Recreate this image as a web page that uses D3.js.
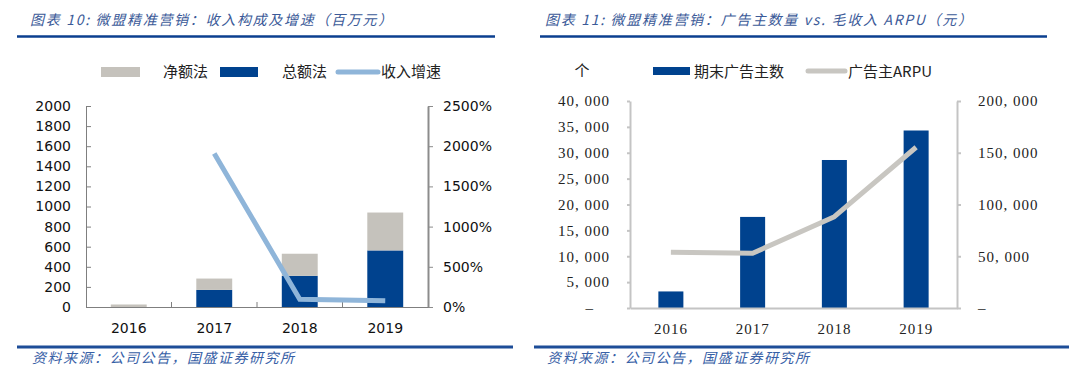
<!DOCTYPE html>
<html>
<head>
<meta charset="utf-8">
<script src="https://cdn.jsdelivr.net/npm/d3@7"></script>
<style>
	body { margin: 0; background: #ffffff; }
	svg { display: block; }
	.title { font-family: "Noto Sans CJK SC", sans-serif; font-style: italic; font-size: 14px; fill: #3b5a98; letter-spacing: 1.7px; }
	.source { font-family: "Noto Sans CJK SC", sans-serif; font-style: italic; font-size: 14px; fill: #3760a6; letter-spacing: 1.5px; }
	.legend { font-family: "Noto Sans CJK SC", sans-serif; font-size: 15px; fill: #222222; }
	.sans text { font-family: "DejaVu Sans", sans-serif; font-size: 14px; fill: #111111; }
	.serif text { font-family: "Liberation Serif", serif; font-size: 15px; fill: #222222; letter-spacing: 1px; }
</style>
</head>
<body>
<svg id="chart" width="1080" height="377"></svg>
<script>
// ---- data ----------------------------------------------------------------

var years = ["2016", "2017", "2018", "2019"];

// left panel (百万元): stacked bars, 总额法 at the bottom, 净额法 on top
var grossRevenue = [0, 170, 310, 563];      // 总额法
var netRevenue = [25, 113, 220, 377];       // 净额法 (segment on top)
var revenueGrowth = [null, 19.1, 0.96, 0.78]; // 收入增速, ratio
var leftTicks = [0, 200, 400, 600, 800, 1000, 1200, 1400, 1600, 1800, 2000];
var growthTicks = [0, 5, 10, 15, 20, 25];

// right panel
var advertisers = [3200, 17600, 28600, 34300];   // 期末广告主数
var advertiserArpu = [53800, 52900, 88200, 155300]; // 广告主ARPU
var countTicks = [0, 5000, 10000, 15000, 20000, 25000, 30000, 35000, 40000];
var arpuTicks = [0, 50000, 100000, 150000, 200000];

var leftTitle = "图表 10:  微盟精准营销：收入构成及增速（百万元）";
var rightTitle = "图表 11:  微盟精准营销：广告主数量 vs. 毛收入 ARPU（元）";
var sourceText = "资料来源：公司公告，国盛证券研究所";

var BLUE = "#00428e";
var GREY_BAR = "#c5c2bc";
var LIGHT_BLUE = "#8fb5d9";
var GREY_LINE = "#c8c6c1";

var svg = d3.select("#chart");

/* **************************************************************************
 * drawFrame
 *
 * Title, the rule under it, the rule at the bottom and the source line.
 ****************************************************************************/
function drawFrame(x0, x1, titleX, title, footX0, footX1, sourceX)
{
	svg.append("text").attr("class", "title")
		.attr("x", titleX).attr("y", 25)
		.text(title);

	svg.append("line")
		.attr("x1", x0).attr("x2", x1).attr("y1", 36.5).attr("y2", 36.5)
		.attr("stroke", "#0b3f8f").attr("stroke-width", 2.5);

	svg.append("line")
		.attr("x1", footX0).attr("x2", footX1).attr("y1", 347).attr("y2", 347)
		.attr("stroke", "#1d4d98").attr("stroke-width", 3);

	svg.append("text").attr("class", "source")
		.attr("x", sourceX).attr("y", 363)
		.text(sourceText);
}

/* **************************************************************************
 * drawRevenuePanel  (left)
 ****************************************************************************/
function drawRevenuePanel()
{
	var x = d3.scaleBand().domain(years).range([86, 428])
		.paddingInner(0.58).paddingOuter(0.29);
	var y = d3.scaleLinear().domain([0, 2000]).range([307, 106]);
	var yPct = d3.scaleLinear().domain([0, 25]).range([307, 106]);

	var rows = years.map(function (yr, i) {
		return { year: yr, gross: grossRevenue[i], net: netRevenue[i] };
	});
	var stacked = d3.stack().keys(["gross", "net"])(rows);
	var colors = { gross: BLUE, net: GREY_BAR };

	var g = svg.append("g").attr("class", "sans");

	g.selectAll("g.series").data(stacked).enter().append("g")
		.attr("class", "series")
		.attr("fill", function (s) { return colors[s.key]; })
		.selectAll("rect").data(function (s) { return s; }).enter().append("rect")
		.attr("x", function (d) { return x(d.data.year); })
		.attr("width", x.bandwidth())
		.attr("y", function (d) { return y(d[1]); })
		.attr("height", function (d) { return y(d[0]) - y(d[1]); });

	// left axis, ticks pointing in
	var ax = g.append("g").attr("transform", "translate(86,0)")
		.call(d3.axisLeft(y).tickValues(leftTicks).tickSizeInner(-5).tickSizeOuter(0).tickPadding(15)
			.tickFormat(d3.format("d")));
	ax.selectAll("line, path").attr("stroke", "#7f7f7f");

	// right axis, percentages
	var axR = g.append("g").attr("transform", "translate(428,0)")
		.call(d3.axisRight(yPct).tickValues(growthTicks).tickSizeInner(5).tickSizeOuter(0).tickPadding(10)
			.tickFormat(function (d) { return (d * 100) + "%"; }));
	axR.selectAll("line, path").attr("stroke", "#8c8c8c");
	axR.select("path").attr("stroke-width", 2);

	// category axis with boundary ticks
	var axX = g.append("g").attr("transform", "translate(0,307)")
		.call(d3.axisBottom(x).tickSize(0).tickPadding(13));
	axX.select("path").attr("stroke", "#7f7f7f");
	axX.selectAll("text").attr("dy", "0.9em");
	g.selectAll("line.bound").data(years.slice(1)).enter().append("line")
		.attr("class", "bound")
		.attr("x1", function (d) { return x(d) - x.step() * x.paddingInner() / 2; })
		.attr("x2", function (d) { return x(d) - x.step() * x.paddingInner() / 2; })
		.attr("y1", 307).attr("y2", 302)
		.attr("stroke", "#7f7f7f");

	// growth line
	var line = d3.line()
		.defined(function (d) { return d.v != null; })
		.x(function (d) { return x(d.year) + x.bandwidth() / 2; })
		.y(function (d) { return yPct(d.v); });
	g.append("path")
		.datum(years.map(function (yr, i) { return { year: yr, v: revenueGrowth[i] }; }))
		.attr("d", line)
		.attr("fill", "none").attr("stroke", LIGHT_BLUE).attr("stroke-width", 5);

	// legend
	var lg = svg.append("g");
	lg.append("rect").attr("x", 101).attr("y", 67).attr("width", 39).attr("height", 10).attr("fill", GREY_BAR);
	lg.append("text").attr("class", "legend").attr("x", 163).attr("y", 77).text("净额法");
	lg.append("rect").attr("x", 220).attr("y", 67).attr("width", 38).attr("height", 10).attr("fill", BLUE);
	lg.append("text").attr("class", "legend").attr("x", 282).attr("y", 77).text("总额法");
	lg.append("line").attr("x1", 338).attr("x2", 378).attr("y1", 72).attr("y2", 72)
		.attr("stroke", LIGHT_BLUE).attr("stroke-width", 5).attr("stroke-linecap", "round");
	lg.append("text").attr("class", "legend").attr("x", 381).attr("y", 77).text("收入增速");
}

/* **************************************************************************
 * drawAdvertiserPanel  (right)
 ****************************************************************************/
function drawAdvertiserPanel()
{
	var x = d3.scaleBand().domain(years).range([630, 957])
		.paddingInner(0.694).paddingOuter(0.347);
	var y = d3.scaleLinear().domain([0, 40000]).range([308, 101]);
	var yArpu = d3.scaleLinear().domain([0, 200000]).range([308, 101]);

	var fmt = function (d) {
		return d === 0 ? "–" : d3.format(",")(d).replace(/,/g, ", ");
	};

	var g = svg.append("g").attr("class", "serif");

	g.selectAll("rect.bar").data(advertisers).enter().append("rect")
		.attr("class", "bar")
		.attr("x", function (d, i) { return x(years[i]); })
		.attr("width", x.bandwidth())
		.attr("y", function (d) { return y(d); })
		.attr("height", function (d) { return 308 - y(d); })
		.attr("fill", BLUE);

	var ax = g.append("g").attr("transform", "translate(630,0)")
		.call(d3.axisLeft(y).tickValues(countTicks).tickSizeInner(3).tickSizeOuter(0).tickPadding(17).tickFormat(fmt));
	ax.selectAll("line, path").attr("stroke", "#c4c4c4").attr("stroke-width", 2);
	ax.selectAll("text").filter(function (d) { return d === 0; }).attr("dx", -16);

	var axR = g.append("g").attr("transform", "translate(957,0)")
		.call(d3.axisRight(yArpu).tickValues(arpuTicks).tickSizeInner(4).tickSizeOuter(0).tickPadding(17).tickFormat(fmt));
	axR.selectAll("line, path").attr("stroke", "#c4c4c4").attr("stroke-width", 2);

	var axX = g.append("g").attr("transform", "translate(0,308)")
		.call(d3.axisBottom(x).tickSize(0).tickPadding(12));
	axX.select("path").attr("stroke", "#c4c4c4").attr("stroke-width", 2);
	axX.selectAll("text").attr("dy", "0.9em");

	var line = d3.line()
		.x(function (d, i) { return x(years[i]) + x.bandwidth() / 2; })
		.y(function (d) { return yArpu(d); });
	g.append("path").datum(advertiserArpu)
		.attr("d", line)
		.attr("fill", "none").attr("stroke", GREY_LINE).attr("stroke-width", 5)
		.attr("stroke-linejoin", "round");

	// legend
	var lg = svg.append("g");
	lg.append("text").attr("class", "legend").attr("x", 582).attr("y", 76)
		.attr("text-anchor", "middle").text("个");
	lg.append("rect").attr("x", 653).attr("y", 67).attr("width", 37).attr("height", 8).attr("fill", BLUE);
	lg.append("text").attr("class", "legend").attr("x", 694).attr("y", 77).text("期末广告主数");
	lg.append("line").attr("x1", 808).attr("x2", 845).attr("y1", 71).attr("y2", 71)
		.attr("stroke", GREY_LINE).attr("stroke-width", 5).attr("stroke-linecap", "round");
	lg.append("text").attr("class", "legend").attr("x", 848).attr("y", 77).text("广告主ARPU");
}

drawFrame(17, 495, 30, leftTitle, 17, 513, 32);
drawFrame(540, 1047, 545, rightTitle, 534, 1069, 547);
drawRevenuePanel();
drawAdvertiserPanel();
</script>
</body>
</html>
